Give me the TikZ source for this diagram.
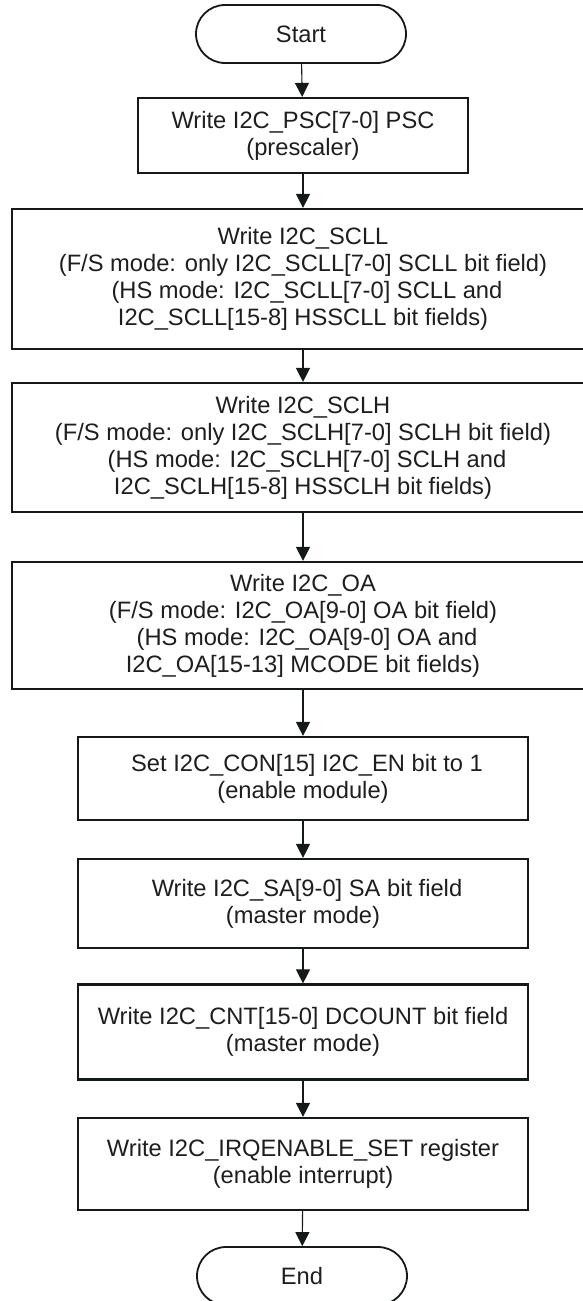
\documentclass[tikz,border=0pt]{standalone}
\usepackage{fontspec}
\setmainfont{Liberation Sans}
\usetikzlibrary{arrows.meta,shapes.misc}
\definecolor{ink}{HTML}{141A17}
\definecolor{txt}{HTML}{1E1E1E}
\begin{document}
\begin{tikzpicture}[x=1pt,y=-1pt,
  box/.style={draw=ink, line width=2.2pt, fill=white, inner sep=0pt, align=center,
    font=\fontsize{23.7}{27}\selectfont, text=txt},
  term/.style={draw=ink, line width=1.8pt, rounded rectangle, inner sep=0pt,
    minimum width=210pt, minimum height=58pt, font=\fontsize{23.7}{27}\selectfont, text=txt},
  flow/.style={-{Triangle[width=14pt,length=14pt]}, line width=1.1pt, draw=ink}]
\useasboundingbox (0,0) rectangle (583,1301);
\node[term] (start) at (301,34) {Start};
\node[box, minimum width=330pt, minimum height=75pt] (psc) at (303,135.5)
  {Write I2C\_PSC[7-0] PSC\\(prescaler)};
\node[box, minimum width=582pt, minimum height=140pt] (scll) at (303,279)
  {Write I2C\_SCLL\\(F/S mode: only I2C\_SCLL[7-0] SCLL bit field)\\
   \hspace*{8pt}(HS mode: I2C\_SCLL[7-0] SCLL and\\I2C\_SCLL[15-8] HSSCLL bit fields)};
\node[box, minimum width=582pt, minimum height=129pt] (sclh) at (303,447.5)
  {Write I2C\_SCLH\\(F/S mode: only I2C\_SCLH[7-0] SCLH bit field)\\
   \hspace*{8pt}(HS mode: I2C\_SCLH[7-0] SCLH and\\I2C\_SCLH[15-8] HSSCLH bit fields)};
\node[box, minimum width=582pt, minimum height=127pt] (oa) at (303,625.5)
  {Write I2C\_OA\\(F/S mode: I2C\_OA[9-0] OA bit field)\\
   \hspace*{8pt}(HS mode: I2C\_OA[9-0] OA and\\I2C\_OA[15-13] MCODE bit fields)};
\node[box, minimum width=450pt, minimum height=83pt] (con) at (303,778.5)
  {\hspace*{8pt}Set I2C\_CON[15] I2C\_EN bit to 1\\(enable module)};
\node[box, minimum width=450pt, minimum height=89pt] (sa) at (303,903.5)
  {\hspace*{8pt}Write I2C\_SA[9-0] SA bit field\\(master mode)};
\node[box, minimum width=450pt, minimum height=95pt] (cnt) at (303,1032)
  {Write I2C\_CNT[15-0] DCOUNT bit field\\(master mode)};
\node[box, minimum width=450pt, minimum height=92pt] (irq) at (303,1164)
  {Write I2C\_IRQENABLE\_SET register\\(enable interrupt)};
\node[term] (end) at (302,1276) {End};
\draw[flow] (start) -- (psc);
\draw[flow] (psc) -- (scll);
\draw[flow] (scll) -- (sclh);
\draw[flow] (sclh) -- (oa);
\draw[flow] (oa) -- (con);
\draw[flow] (con) -- (sa);
\draw[flow] (sa) -- (cnt);
\draw[flow] (cnt) -- (irq);
\draw[flow] (irq) -- (end);
\end{tikzpicture}
\end{document}
